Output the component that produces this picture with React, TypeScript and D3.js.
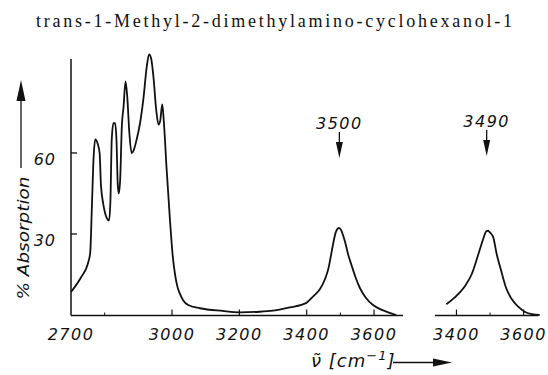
import React from 'react'
import * as d3 from 'd3'

const title = 'trans-1-Methyl-2-dimethylamino-cyclohexanol-1'

// main spectrum, wavenumber (cm-1) and % absorption
const wn1 = [2700, 2730, 2750, 2757, 2762, 2767, 2772, 2779, 2785, 2789, 2796, 2806, 2813, 2817, 2821, 2826, 2831, 2835, 2839, 2842, 2846, 2851, 2856, 2862, 2867, 2873, 2880, 2886, 2895, 2905, 2915, 2925, 2932, 2938, 2945, 2953, 2960, 2965, 2971, 2976, 2984, 2994, 3002, 3009, 3016, 3023, 3033, 3048, 3083, 3150, 3200, 3260, 3300, 3350, 3399, 3420, 3439, 3455, 3464, 3472, 3478, 3486, 3492, 3496, 3502, 3508, 3514, 3524, 3533, 3545, 3558, 3575, 3597, 3625, 3666]
const abs1 = [8.5, 14, 19, 23, 40, 58, 65, 63.5, 60, 48, 41, 36, 35, 42, 65, 71, 71, 65, 48, 45, 50, 70, 77, 86.5, 81, 68, 60, 61, 65, 71, 80, 92, 96.5, 95, 88, 76, 70.5, 72, 78, 71, 54, 35, 22, 15, 10.5, 8, 5.5, 3.7, 2.5, 1.5, 1, 1.2, 1.6, 2.8, 4.5, 7, 9.5, 13.5, 17, 22, 26, 30.5, 32, 32.3, 31.5, 29.5, 27, 22, 18.5, 14, 10, 6.5, 3.7, 1.8, 0]

// second (diluted) OH band
const wn2 = [3370, 3395, 3424, 3445, 3464, 3478, 3489, 3494, 3500, 3509, 3520, 3534, 3548, 3564, 3585, 3603, 3625, 3648]
const abs2 = [4, 6.5, 10.5, 15, 22, 27.5, 31, 31.2, 30.5, 29, 22.5, 16, 10, 6, 3, 1.2, 0.3, 0]

const yTicks = [30, 60]
const x1Labels = [2700, 3000, 3200, 3400, 3600]
const x1Minor = [2800, 3500]
const x2Labels = [3400, 3600]
const x2Minor = [3500]
const peakLabels = ['3500', '3490']
const peakWn = [3497, 3490]

const techFont = '"DejaVu Sans", sans-serif'

export default function App() {
  const yBase = 315.5
  const y = d3.scaleLinear().domain([0, 94.8]).range([315, 59])
  const x1 = d3.scaleLinear().domain([2700, 3686]).range([71, 403])
  const x2 = d3.scaleLinear().domain([3336, 3643]).range([435, 538])

  const line1 = d3.line<number>()
    .x((d, i) => x1(wn1[i]))
    .y(d => y(d))
    .curve(d3.curveMonotoneX)
  const line2 = d3.line<number>()
    .x((d, i) => x2(wn2[i]))
    .y(d => y(d))
    .curve(d3.curveMonotoneX)

  const stroke = '#111'

  return (
    <svg width={548} height={375} style={{ position: 'absolute', left: 0, top: 0, background: '#fff' }}>
      <text x={274} y={27} textAnchor="middle" fontFamily='"Liberation Serif", serif' fontSize={18}
        textLength={476} lengthAdjust="spacing" fill={stroke}>{title}</text>

      {/* y axis */}
      <line x1={71} x2={71} y1={59} y2={yBase} stroke={stroke} strokeWidth={1.5} />
      {yTicks.map(t => (
        <g key={t}>
          <line x1={71} x2={77} y1={y(t)} y2={y(t)} stroke={stroke} strokeWidth={1.3} />
          <text x={56} y={y(t) + 12} textAnchor="end" fontFamily={techFont} fontStyle="italic"
            fontSize={16} letterSpacing={1} fill={stroke}>{t}</text>
        </g>
      ))}
      <text transform="translate(29,238) rotate(-90)" textAnchor="middle" fontFamily={techFont}
        fontStyle="italic" fontSize={16} textLength={123} lengthAdjust="spacingAndGlyphs" fill={stroke}>% Absorption</text>
      <line x1={21} x2={21} y1={168} y2={98} stroke={stroke} strokeWidth={1.3} />
      <path d="M21,80 L16.5,101 L25.5,101 Z" fill={stroke} />

      {/* x axis, panel 1 */}
      <line x1={71} x2={403} y1={yBase} y2={yBase} stroke={stroke} strokeWidth={1.5} />
      {x1Labels.filter(t => t !== 2700).map(t => (
        <line key={t} x1={x1(t)} x2={x1(t)} y1={yBase} y2={yBase - 6} stroke={stroke} strokeWidth={1.2} />
      ))}
      {x1Minor.map(t => (
        <line key={t} x1={x1(t)} x2={x1(t)} y1={yBase} y2={yBase - 3} stroke={stroke} strokeWidth={1} />
      ))}
      {x1Labels.map(t => (
        <text key={t} x={x1(t)} y={340} textAnchor="middle" fontFamily={techFont} fontStyle="italic"
          fontSize={16} letterSpacing={1.5} fill={stroke}>{t}</text>
      ))}

      {/* x axis, panel 2 */}
      <line x1={435} x2={538} y1={yBase} y2={yBase} stroke={stroke} strokeWidth={1.5} />
      {x2Labels.map(t => (
        <line key={t} x1={x2(t)} x2={x2(t)} y1={yBase} y2={yBase - 6} stroke={stroke} strokeWidth={1.2} />
      ))}
      {x2Minor.map(t => (
        <line key={t} x1={x2(t)} x2={x2(t)} y1={yBase} y2={yBase - 3} stroke={stroke} strokeWidth={1} />
      ))}
      {x2Labels.map(t => (
        <text key={t} x={x2(t)} y={340} textAnchor="middle" fontFamily={techFont} fontStyle="italic"
          fontSize={16} letterSpacing={1.5} fill={stroke}>{t}</text>
      ))}

      {/* spectra */}
      <path d={line1(abs1) || ''} fill="none" stroke={stroke} strokeWidth={1.8} strokeLinejoin="round" />
      <path d={line2(abs2) || ''} fill="none" stroke={stroke} strokeWidth={1.8} strokeLinejoin="round" />

      {/* peak annotations */}
      {peakLabels.map((lab, i) => {
        const px = i === 0 ? x1(peakWn[i]) : x2(peakWn[i])
        const ty = i === 0 ? 129 : 127
        return (
          <g key={lab}>
            <text x={px} y={ty} textAnchor="middle" fontFamily={techFont} fontStyle="italic"
              fontSize={16} letterSpacing={1.5} fill={stroke}>{lab}</text>
            <line x1={px} x2={px} y1={ty + 3} y2={ty + 14} stroke={stroke} strokeWidth={1.3} />
            <path d={`M${px},${ty + 29} L${px - 3.5},${ty + 13} L${px + 3.5},${ty + 13} Z`} fill={stroke} />
          </g>
        )
      })}

      {/* x axis title */}
      <text x={311} y={367} fontFamily={techFont} fontStyle="italic" fontSize={18} letterSpacing={1} fill={stroke}>
        {'\u03bd\u0303 [cm'}
        <tspan dy={-7} fontSize={13}>{'\u22121'}</tspan>
        <tspan dy={7}>]</tspan>
      </text>
      <line x1={393} x2={436} y1={362.5} y2={362.5} stroke={stroke} strokeWidth={1.3} />
      <path d="M452,362.5 L433,358.5 L433,366.5 Z" fill={stroke} />
    </svg>
  )
}
